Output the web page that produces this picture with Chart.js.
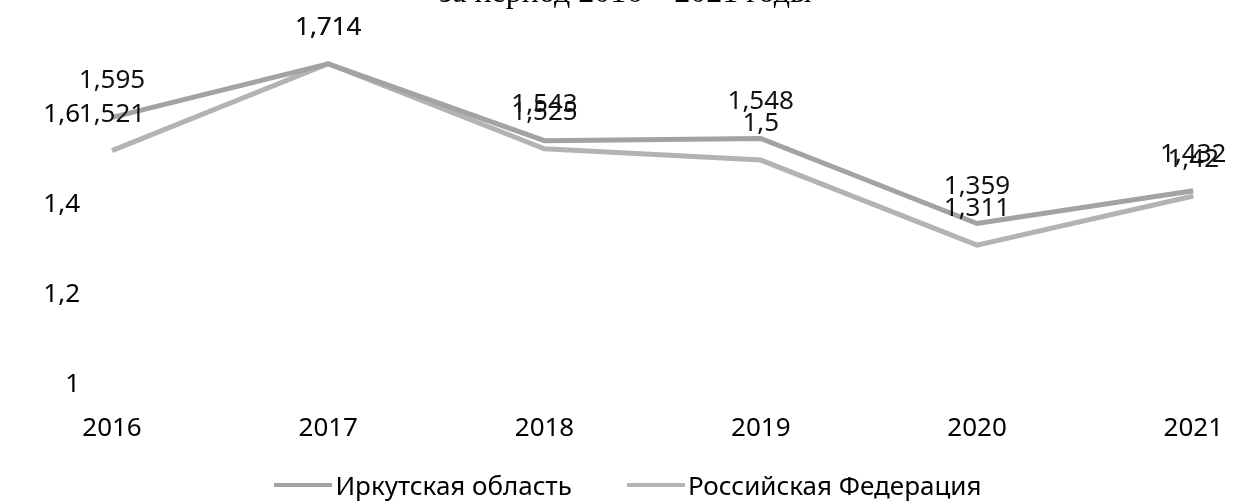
<!DOCTYPE html>
<html>
<head>
<meta charset="utf-8">
<script src="https://cdn.jsdelivr.net/npm/chart.js@4"></script>
<style>
  html, body { margin: 0; padding: 0; background: #fff; overflow: hidden; }
  #wrap { position: relative; width: 1251px; height: 502px; }
  #title {
    position: absolute; left: 0; top: -25px; width: 1251px;
    text-align: center; font-family: "Liberation Serif", serif;
    font-size: 32px; line-height: 32px; color: #000;
  }
  canvas { position: absolute; left: 0; top: 0; }
  #legend {
    position: absolute; left: 0; top: 470px; width: 1256px;
    display: flex; justify-content: center; gap: 55px;
    font-family: "Noto Sans", "Open Sans", sans-serif; font-size: 26px;
    line-height: 30px; color: #000;
  }
  #legend .item { display: flex; align-items: center; }
  #legend .mark { width: 58px; height: 4px; margin-right: 3px; }
</style>
</head>
<body>
<div id="wrap">
  <canvas id="chart" width="1251" height="502"></canvas>
  <div id="title">за период 2016 – 2021 годы</div>
  <div id="legend"></div>
</div>
<script>
// data
const years = ['2016', '2017', '2018', '2019', '2020', '2021'];
const irkutsk = [1.595, 1.714, 1.543, 1.548, 1.359, 1.432];
const russia = [1.521, 1.714, 1.525, 1.5, 1.311, 1.42];
const yTicks = [1, 1.2, 1.4, 1.6];

const FONT = '"Noto Sans", "Open Sans", sans-serif';
const fmt = v => String(Math.round(v * 1000) / 1000).replace('.', ',');

// value labels above each point
const pointLabels = {
    id: 'pointLabels',
    afterDatasetsDraw(chart) {
        const ctx = chart.ctx;
        ctx.save();
        ctx.font = '26px ' + FONT;
        ctx.fillStyle = '#111';
        ctx.textAlign = 'center';
        ctx.textBaseline = 'alphabetic';
        chart.data.datasets.forEach((ds, i) => {
            chart.getDatasetMeta(i).data.forEach((pt, j) => {
                ctx.fillText(fmt(ds.data[j]), pt.x, pt.y - 29);
            });
        });
        ctx.restore();
    }
};

const chart = new Chart(document.getElementById('chart').getContext('2d'), {
    type: 'line',
    data: {
        labels: years,
        datasets: [
            {
                label: 'Иркутская область',
                data: irkutsk,
                borderColor: '#a3a3a3',
                backgroundColor: '#a3a3a3',
                borderWidth: 5,
                pointRadius: 0,
                tension: 0
            },
            {
                label: 'Российская Федерация',
                data: russia,
                borderColor: '#b3b3b3',
                backgroundColor: '#b3b3b3',
                borderWidth: 5,
                pointRadius: 0,
                tension: 0
            }
        ]
    },
    options: {
        responsive: false,
        animation: false,
        layout: { padding: { left: 0, right: 56, top: 2, bottom: 0 } },
        plugins: {
            tooltip: { enabled: false },
            legend: { display: false }
        },
        scales: {
            x: {
                offset: false,
                grid: { display: false, drawTicks: false },
                border: { display: false },
                afterFit: scale => { scale.height = 117; },
                ticks: { color: '#000', padding: 28, font: { family: FONT, size: 26 } }
            },
            y: {
                min: 1,
                max: 1.75,
                grid: { display: false, drawTicks: false },
                border: { display: false },
                afterBuildTicks: scale => { scale.ticks = yTicks.map(v => ({ value: v })); },
                afterFit: scale => { scale.width = 112; },
                ticks: {
                    color: '#000',
                    padding: 32,
                    font: { family: FONT, size: 26 },
                    callback: v => fmt(v)
                }
            }
        }
    },
    plugins: [pointLabels]
});

// legend built from the chart's datasets
const legendEl = document.getElementById('legend');
chart.data.datasets.forEach(ds => {
    const item = document.createElement('div');
    item.className = 'item';
    const mark = document.createElement('span');
    mark.className = 'mark';
    mark.style.background = ds.borderColor;
    const text = document.createElement('span');
    text.textContent = ds.label;
    item.appendChild(mark);
    item.appendChild(text);
    legendEl.appendChild(item);
});
</script>
</body>
</html>
